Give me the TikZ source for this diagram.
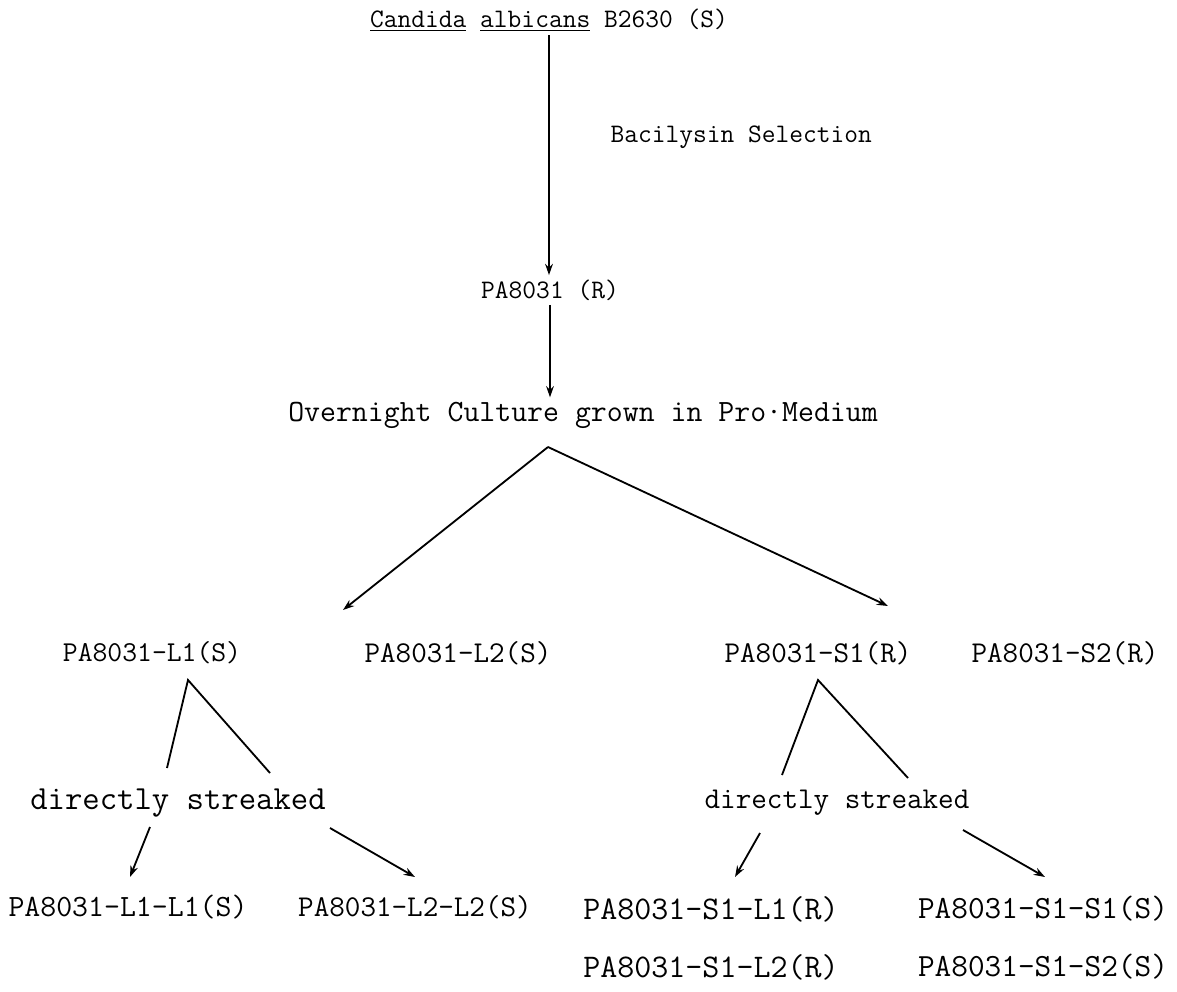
\documentclass[tikz,border=0pt]{standalone}
\usetikzlibrary{arrows.meta}
\tikzset{
  txt/.style={font=\ttfamily\fontsize{#1}{#1}\selectfont, inner sep=3pt, text=black},
  txt/.default=21.5,
  flow/.style={-{Stealth[length=8pt,width=5.5pt]}, line width=1.3pt},
  leg/.style={line width=1.3pt},
}
\begin{document}
\begin{tikzpicture}[x=0.025cm,y=-0.025cm]
  \useasboundingbox (0,0) rectangle (1177,992);
  % top of the scheme
  \node[txt=19] (src) at (549,20) {\underline{Candida} \underline{albicans} B2630 (S)};
  \node[txt=19,anchor=west] (sel) at (606,137) {Bacilysin Selection};
  \node[txt=19] (pa) at (550,290) {PA8031 (R)};
  \node[txt=22] (ov) at (583,415) {Overnight Culture grown in Pro·Medium};
  % first isolates
  \node[txt=20.5] (l1) at (152,653) {PA8031-L1(S)};
  \node[txt] (l2) at (458,653) {PA8031-L2(S)};
  \node[txt] (s1) at (818,653) {PA8031-S1(R)};
  \node[txt] (s2) at (1065,653) {PA8031-S2(R)};
  \node[txt=24] (dsl) at (178,803) {directly streaked};
  \node[txt] (dsr) at (837,803) {directly streaked};
  % second isolates
  \node[txt=22] (l1l1) at (128,907) {PA8031-L1-L1(S)};
  \node[txt] (l2l2) at (415,907) {PA8031-L2-L2(S)};
  \node[txt=23.5] (s1l1) at (711,909) {PA8031-S1-L1(R)};
  \node[txt=23] (s1s1) at (1043,909) {PA8031-S1-S1(S)};
  \node[txt=23.5] (s1l2) at (711,967) {PA8031-S1-L2(R)};
  \node[txt=23] (s1s2) at (1043,967) {PA8031-S1-S2(S)};

  \coordinate (ovapex) at (548,447);
  \coordinate (lgap) at (343,610);
  \coordinate (sgap) at (888,606);
  \coordinate (l1apex) at (188,680);
  \coordinate (l1a) at (167,768);
  \coordinate (l1b) at (270,773);
  \coordinate (s1apex) at (818,680);
  \coordinate (s1a) at (782,775);
  \coordinate (s1b) at (908,778);
  \coordinate (dsla) at (150,827);
  \coordinate (dslb) at (330,828);
  \coordinate (dsra) at (760,833);
  \coordinate (dsrb) at (963,830);
  \coordinate (l1l1t) at (130,877);
  \coordinate (l2l2t) at (415,877);
  \coordinate (s1l1t) at (735,877);
  \coordinate (s1s1t) at (1045,877);

  \draw[flow] (src.south) -- (src.south |- pa.north);
  \draw[flow] (pa.south) -- (pa.south |- ov.north);
  \draw[flow] (ovapex) -- (lgap);
  \draw[flow] (ovapex) -- (sgap);
  \draw[leg] (l1a) -- (l1apex) -- (l1b);
  \draw[leg] (s1a) -- (s1apex) -- (s1b);
  \draw[flow] (dsla) -- (l1l1t);
  \draw[flow] (dslb) -- (l2l2t);
  \draw[flow] (dsra) -- (s1l1t);
  \draw[flow] (dsrb) -- (s1s1t);
\end{tikzpicture}
\end{document}
